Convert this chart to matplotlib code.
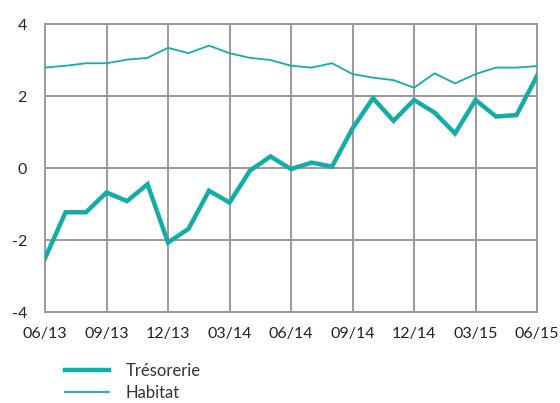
import numpy as np
import matplotlib
matplotlib.use("Agg")
import matplotlib.pyplot as plt

# monthly values, 06/13 .. 06/15
tresorerie = [-2.51, -1.23, -1.23, -0.68, -0.92, -0.45, -2.07, -1.69, -0.63, -0.96,
              -0.07, 0.32, -0.03, 0.15, 0.04, 1.10, 1.94, 1.31, 1.89, 1.54,
              0.96, 1.89, 1.43, 1.47, 2.56]
habitat = [2.79, 2.84, 2.91, 2.91, 3.01, 3.06, 3.34, 3.19, 3.40, 3.19,
           3.06, 3.00, 2.84, 2.79, 2.91, 2.61, 2.51, 2.44, 2.23, 2.63,
           2.35, 2.61, 2.79, 2.79, 2.83]
tick_labels = ["06/13", "09/13", "12/13", "03/14", "06/14", "09/14", "12/14", "03/15", "06/15"]
y_ticks = [-4, -2, 0, 2, 4]

teal = "#12ADA7"
grid_gray = "#9A9A9E"

plt.rcParams["font.family"] = ["Lato", "DejaVu Sans"]
plt.rcParams["axes.unicode_minus"] = False

fig = plt.figure(figsize=(5.6, 4.03), dpi=100)
ax = fig.add_axes([0.0804, 0.2258, 0.8786, 0.7146])

x = np.arange(len(tresorerie))
ax.plot(x, tresorerie, color=teal, lw=3.2, label="Trésorerie", solid_joinstyle="miter", zorder=3)
ax.plot(x, habitat, color=teal, lw=1.3, label="Habitat", zorder=3)

ax.set_xlim(0, len(x) - 1)
ax.set_ylim(-4, 4)
ax.set_xticks(np.arange(0, len(x), 3))
ax.set_xticklabels(tick_labels)
ax.set_yticks(y_ticks)
ax.grid(True, color=grid_gray, lw=1.4)
ax.set_axisbelow(True)
for s in ax.spines.values():
    s.set_color(grid_gray)
    s.set_linewidth(1.4)
ax.tick_params(axis="both", length=0, labelsize=11.5, colors="#222222")
ax.tick_params(axis="y", pad=13)
ax.tick_params(axis="x", pad=11)

fig.legend(loc="upper left", bbox_to_anchor=(0.105, 0.115), frameon=False,
           fontsize=12, handlelength=2.6, handletextpad=1.0, labelspacing=0.35,
           labelcolor="#333333", borderaxespad=0)

fig.savefig("out.png", dpi=100)
